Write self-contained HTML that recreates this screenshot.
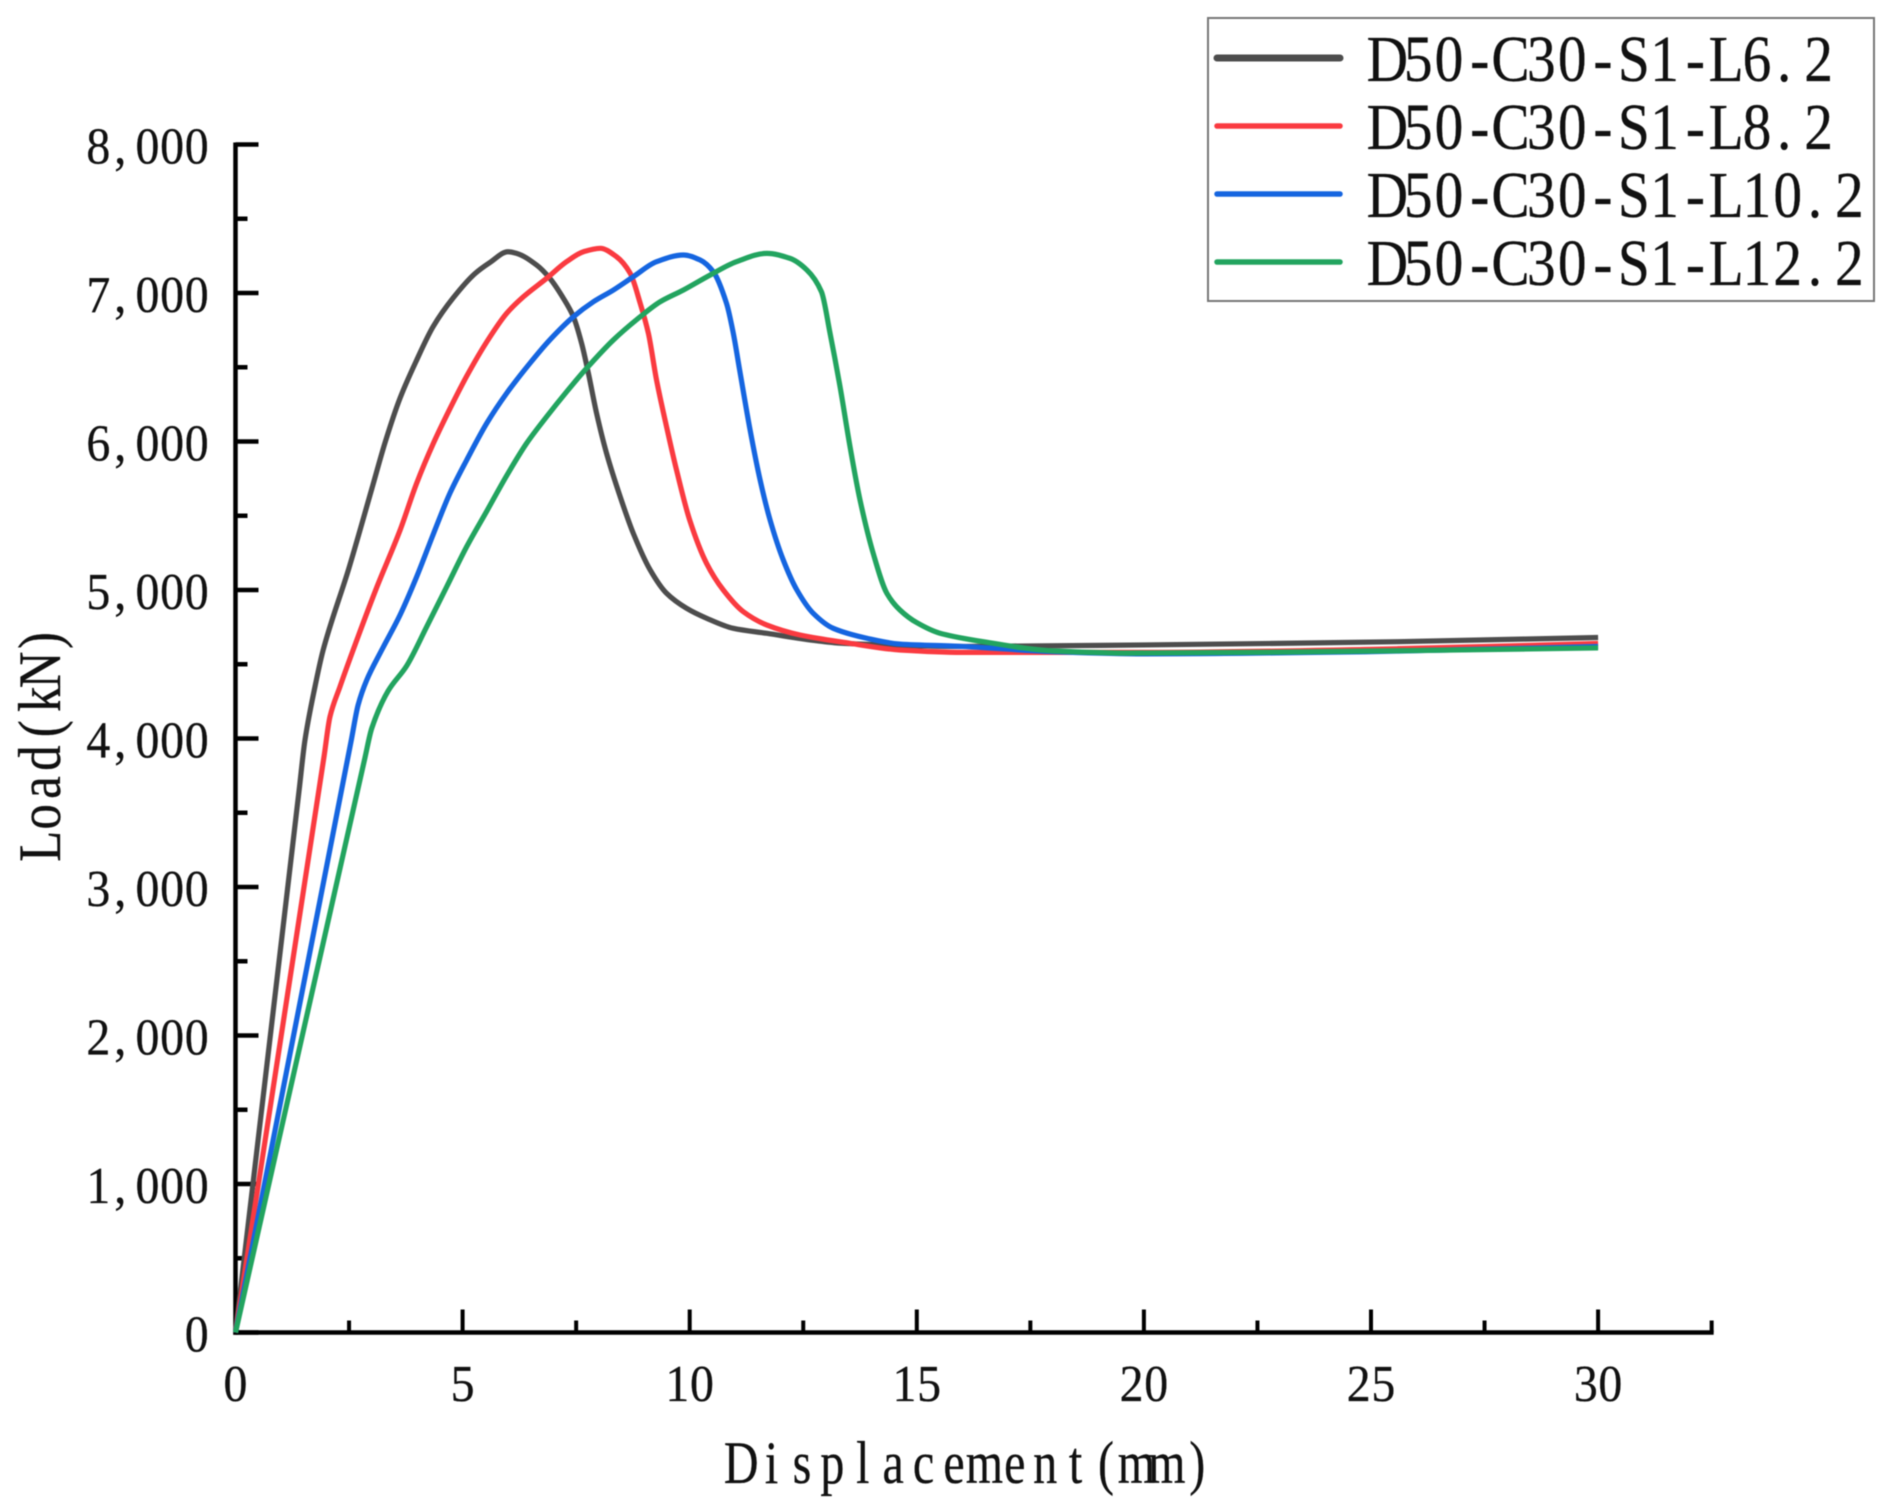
<!DOCTYPE html>
<html lang="en">
<head>
<meta charset="utf-8">
<title>Load versus displacement chart</title>
<style>
html,body{margin:0;padding:0;background:#fff;width:1893px;height:1503px;overflow:hidden}
svg{display:block;filter:blur(0.5px)}
text{font-family:"Liberation Serif","Noto Serif CJK SC",serif;fill:#111;stroke:#111;stroke-width:0.3px}
</style>
</head>
<body>
<svg id="chart" xmlns="http://www.w3.org/2000/svg" width="1893" height="1503" viewBox="0 0 1893 1503"></svg>
<script>
const seriesNames = ["D50-C30-S1-L6.2", "D50-C30-S1-L8.2", "D50-C30-S1-L10.2", "D50-C30-S1-L12.2"];
const seriesColors = ["#4d4d4d", "#fa3a40", "#1565e0", "#22a45f"];

const l62X = [0,1.4,1.53,1.75,1.93,2.5,3,3.3,3.62,3.99,4.35,4.79,5.27,5.6,6,6.19,6.63,6.92,7.22,7.44,7.62,7.77,7.95,8.17,8.47,8.76,9.13,9.49,9.93,10.37,10.96,11.7,12.8,13.4,16,20,25.6,30];
const l62Y = [0,3650,3990,4349,4596,5150,5680,6000,6290,6549,6773,6966,7130,7205,7278,7267,7188,7099,6964,6840,6661,6459,6190,5920,5628,5380,5135,4978,4877,4810,4742,4708,4658,4640,4620,4630,4652,4680];

const l82X = [0,1.95,2.08,2.3,2.59,3.1,3.62,3.99,4.36,4.72,5.09,5.53,5.97,6.34,6.85,7.29,7.66,8.03,8.39,8.69,8.91,9.09,9.27,9.49,9.71,10,10.37,10.74,11.18,11.7,12.43,13.53,14.63,16,20,25,30];
const l82Y = [0,3880,4147,4349,4596,5010,5400,5720,5990,6220,6440,6670,6863,6975,7099,7211,7278,7301,7244,7133,6931,6729,6414,6100,5808,5471,5180,5000,4854,4764,4697,4641,4596,4580,4580,4600,4640];

const l102X = [0,2.55,2.7,2.89,3.22,3.62,3.99,4.36,4.72,5.09,5.53,5.97,6.48,6.92,7.44,7.88,8.32,8.76,9.27,9.86,10.23,10.52,10.81,10.96,11.1,11.33,11.55,11.77,12.06,12.36,12.72,13.16,13.9,14.63,16,18,20,25,30];
const l102Y = [0,3990,4226,4394,4596,4830,5090,5380,5651,5875,6122,6325,6526,6684,6840,6941,7020,7110,7211,7256,7222,7143,6931,6729,6481,6077,5741,5471,5202,5000,4843,4742,4675,4636,4620,4585,4570,4585,4620];

const l122X = [0,2.85,3,3.36,3.77,4.21,4.65,5.09,5.53,5.97,6.41,6.85,7.29,7.73,8.32,8.91,9.35,9.86,10.45,11.03,11.7,12.21,12.58,12.9,13.09,13.31,13.53,13.75,14.04,14.34,14.63,15,15.5,16.5,18,19.7,25.6,30];
const l122Y = [0,3870,4069,4320,4490,4753,5022,5292,5530,5770,5988,6167,6335,6493,6684,6840,6941,7020,7121,7211,7267,7233,7155,7009,6729,6369,5965,5606,5247,4978,4865,4780,4710,4650,4590,4575,4591,4610];

const xMajorTicks = [0,5,10,15,20,25,30];
const xMinorTicks = [2.5,7.5,12.5,17.5,22.5,27.5,32.5];
const yMajorTicks = [0,1000,2000,3000,4000,5000,6000,7000,8000];
const yMinorTicks = [500,1500,2500,3500,4500,5500,6500,7500];
const xTickLabels = ["0","5","10","15","20","25","30"];
const yTickLabels = ["0","1,000","2,000","3,000","4,000","5,000","6,000","7,000","8,000"];
const xAxisTitle = "Displacement(mm)";
const yAxisTitle = "Load(kN)";

const svg = document.getElementById('chart');
const NS = 'http://www.w3.org/2000/svg';
const PLOT = {x0:235.5, y0:1332.5, xPerUnit:45.42, yPerUnit:0.1485, xMax:32.5, yMax:8000};
function xScale(v){ return PLOT.x0 + v*PLOT.xPerUnit; }
function yScale(v){ return PLOT.y0 - v*PLOT.yPerUnit; }

const measureCtx = document.createElement('canvas').getContext('2d');
function make(tag, attrs, parent){
  const node = document.createElementNS(NS, tag);
  for(const k in attrs){ node.setAttribute(k, attrs[k]); }
  (parent||svg).appendChild(node);
  return node;
}
/* Half-width monospaced layout with condensed glyphs: every glyph sits in a fixed-pitch cell. */
function cellText(str, left, baseline, pitch, size, hs){
  measureCtx.font = size + 'px "Liberation Serif"';
  const xs = [];
  for(let i=0;i<str.length;i++){
    const ch = str[i];
    const w = measureCtx.measureText(ch).width*hs;
    const inset = (ch===','||ch==='.') ? pitch*0.15 : (pitch-w)/2;
    xs.push(((left + i*pitch + inset)/hs).toFixed(2));
  }
  const t = make('text', {x:xs.join(' '), y:baseline, 'font-size':size, transform:'scale('+hs+',1)'});
  t.textContent = str;
  return t;
}

/* monotone cubic path through the data, in screen space */
function curvePath(xs, ys){
  const px = xs.map(xScale), py = ys.map(yScale), n = px.length;
  const d = [], m = new Array(n);
  for(let i=0;i<n-1;i++){ d.push((py[i+1]-py[i])/(px[i+1]-px[i])); }
  m[0] = d[0]; m[n-1] = d[n-2];
  for(let i=1;i<n-1;i++){
    m[i] = d[i-1]*d[i] <= 0 ? 0 : 2*d[i-1]*d[i]/(d[i-1]+d[i]);
  }
  let path = 'M' + px[0].toFixed(2) + ' ' + py[0].toFixed(2);
  for(let i=0;i<n-1;i++){
    const h = (px[i+1]-px[i])/3;
    path += 'C' + (px[i]+h).toFixed(2) + ' ' + (py[i]+m[i]*h).toFixed(2) + ' ' +
            (px[i+1]-h).toFixed(2) + ' ' + (py[i+1]-m[i+1]*h).toFixed(2) + ' ' +
            px[i+1].toFixed(2) + ' ' + py[i+1].toFixed(2);
  }
  return path;
}

/* axes */
const xAxisLine = make('line', {x1:PLOT.x0-2.2, y1:PLOT.y0, x2:xScale(PLOT.xMax)+2, y2:PLOT.y0, stroke:'#000', 'stroke-width':4.5});


const yAxisLine = make('line', {x1:PLOT.x0, y1:PLOT.y0+2.2, x2:PLOT.x0, y2:yScale(PLOT.yMax)-2, stroke:'#000', 'stroke-width':4.5});



xMajorTicks.forEach(function(v,i){
  const tick = make('line', {x1:xScale(v), y1:PLOT.y0, x2:xScale(v), y2:PLOT.y0-23, stroke:'#000', 'stroke-width':4});
  
  
  const label = xTickLabels[i];
  const pitch = 24.6;
  const lab = cellText(label, xScale(v)-label.length*pitch/2, 1401, pitch, 52, 0.92);
  
  
});
xMinorTicks.forEach(function(v){
  const tick = make('line', {x1:xScale(v), y1:PLOT.y0, x2:xScale(v), y2:PLOT.y0-12, stroke:'#000', 'stroke-width':4});
  
  
});
yMajorTicks.forEach(function(v,i){
  const tick = make('line', {x1:PLOT.x0, y1:yScale(v), x2:PLOT.x0+23, y2:yScale(v), stroke:'#000', 'stroke-width':4.5});
  
  
  const label = yTickLabels[i];
  const pitch = 24.6;
  const lab = cellText(label, 209-label.length*pitch, yScale(v)+19, pitch, 52, 0.92);
  
  
});
yMinorTicks.forEach(function(v){
  const tick = make('line', {x1:PLOT.x0, y1:yScale(v), x2:PLOT.x0+12, y2:yScale(v), stroke:'#000', 'stroke-width':4.5});
  
  
});

/* axis titles */
const xTitle = cellText(xAxisTitle, 726, 1483, 30.4, 60, 0.8);


const yTitleGroup = make('g', {transform:'translate(60,861) rotate(-90)'});


yTitleGroup.appendChild(cellText(yAxisTitle, 0, 0, 29.4, 60, 0.85));

/* series */
const seriesXs = [l62X, l82X, l102X, l122X];
const seriesYs = [l62Y, l82Y, l102Y, l122Y];
seriesNames.forEach(function(name,i){
  const line = make('path', {d:curvePath(seriesXs[i], seriesYs[i]), fill:'none', stroke:seriesColors[i], 'stroke-width':5.2, 'stroke-linejoin':'round'});
  
  
});

/* legend */
const legendBox = make('rect', {x:1208, y:18, width:666, height:283, fill:'#fff', stroke:'#777', 'stroke-width':2});


seriesNames.forEach(function(name,i){
  const cy = 58 + i*68;
  const swatch = make('line', {x1:1217, y1:cy, x2:1340, y2:cy, stroke:seriesColors[i], 'stroke-width': i===0 ? 7 : 5.5, 'stroke-linecap':'round'});
  
  
  const lab = cellText(name, 1372, cy+23, 30.8, 66, 0.87);
  
  
});
</script>
</body>
</html>
